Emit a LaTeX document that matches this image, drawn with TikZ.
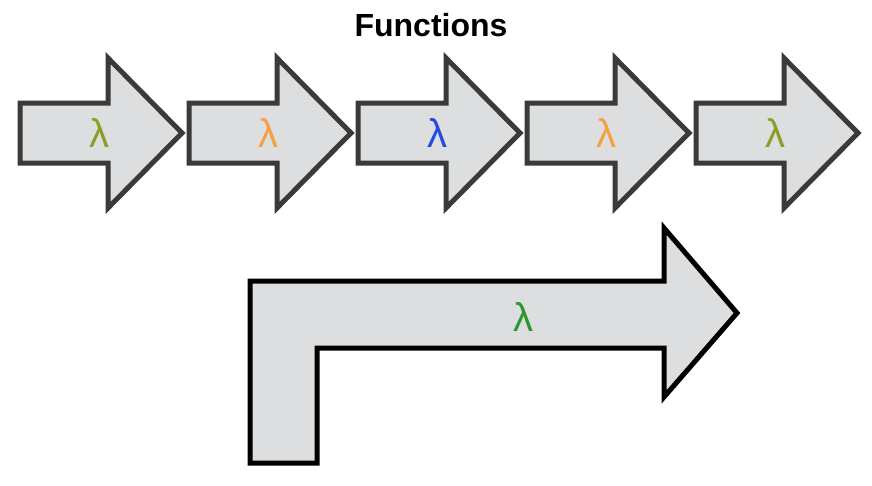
\documentclass[tikz,border=0pt]{standalone}
\usepackage{fontspec}
\setmainfont{Liberation Sans}
\usepackage{tikz}
\usetikzlibrary{positioning}
\definecolor{ArrowFill}{RGB}{221,222,224}
\definecolor{ArrowLine}{RGB}{58,58,58}
\definecolor{LamOlive}{RGB}{138,158,42}
\definecolor{LamOrange}{RGB}{246,160,68}
\definecolor{LamBlue}{RGB}{38,72,228}
\definecolor{LamGreen}{RGB}{44,152,44}

\tikzset{
    fnarrow/.style={fill=ArrowFill, draw=ArrowLine, line width=5pt, miter limit=10},
    lam/.style={inner sep=0pt, font=\fontsize{40}{40}\selectfont}
}

\begin{document}
\begin{tikzpicture}[x=1pt, y=-1pt]
    \useasboundingbox (0,0) rectangle (872,485);
    \node[anchor=base, font=\fontsize{32}{36}\selectfont\bfseries] (title) at (431,36) {Functions};
    \foreach \i/\col in {1/LamOlive, 2/LamOrange, 3/LamBlue, 4/LamOrange, 5/LamOlive} {
        \pgfmathsetmacro{\xo}{20+169*(\i-1)}
        \draw[fnarrow] (\xo,103) -- ++(88,0) -- ++(0,-45) -- ++(74,75) -- ++(-74,75) -- ++(0,-45) -- (\xo,163) -- cycle;
        \node[lam, text=\col] (L\i) at (\xo+79,133) {λ};
    }
    \draw[fnarrow, draw=black] (250,281) -- (664,281) -- (664,228) -- (737,313) -- (664,397) -- (664,348) -- (317,348) -- (317,463) -- (250,463) -- cycle;
    \node[lam, text=LamGreen] (Lbig) at (523,317) {λ};
\end{tikzpicture}
\end{document}
